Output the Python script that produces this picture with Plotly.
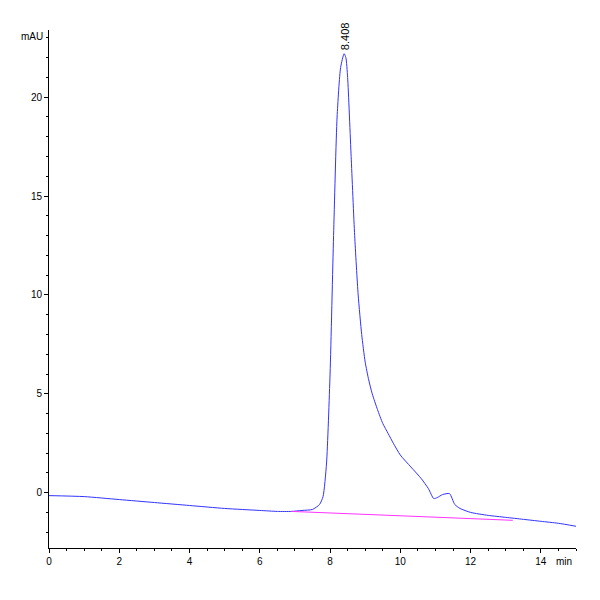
import plotly.graph_objects as go

# chromatogram trace
time_min = [0, 1, 2, 3, 4, 5, 6, 6.5, 6.9, 7.2, 7.5, 7.7, 7.8, 7.9, 8.0, 8.1, 8.2, 8.3,
            8.4, 8.45, 8.5, 8.6, 8.7, 8.8, 8.9, 9.0, 9.1, 9.2, 9.35, 9.5, 9.65, 9.8,
            10.0, 10.3, 10.6, 10.8, 10.95, 11.05, 11.2, 11.4, 11.55, 11.7, 12, 12.5,
            13, 13.5, 14, 14.5, 15]
signal_mau = [-0.15, -0.2, -0.35, -0.5, -0.65, -0.8, -0.9, -0.95, -0.95, -0.9, -0.85, -0.6,
              -0.2, 1.5, 6, 13, 19, 21.5, 22.2, 22.0, 21, 17, 13, 10, 8.0, 6.6, 5.7, 5.0,
              4.2, 3.5, 3.0, 2.5, 1.9, 1.3, 0.7, 0.2, -0.3, -0.25, -0.1, -0.05, -0.6,
              -0.8, -1.0, -1.15, -1.25, -1.35, -1.45, -1.55, -1.7]

# integration baseline
base_t = [6.9, 13.2]
base_y = [-0.95, -1.4]

peak_t = 8.408
peak_y = 22.2

fig = go.Figure()
fig.add_trace(go.Scatter(x=time_min, y=signal_mau, mode="lines",
                         line=dict(color="#3333ff", width=1, shape="spline", smoothing=0.6)))
fig.add_trace(go.Scatter(x=base_t, y=base_y, mode="lines",
                         line=dict(color="#ff33ff", width=1)))
fig.add_annotation(x=peak_t, y=peak_y, text="8.408", textangle=-90, showarrow=False,
                   yanchor="bottom", yshift=2, font=dict(size=11, color="black"))

axis_common = dict(showline=True, linecolor="black", linewidth=1, showgrid=False,
                   zeroline=False, ticks="outside", ticklen=4, tickcolor="black",
                   automargin=False,
                   tickfont=dict(size=10, color="black", family="Liberation Sans"))
fig.update_xaxes(range=[0, 15], dtick=2, minor=dict(ticks="outside", ticklen=2, dtick=0.5,
                 tickcolor="black"), **axis_common)
fig.update_yaxes(range=[-2.8, 23.4], dtick=5, minor=dict(ticks="outside", ticklen=2, dtick=1,
                 tickcolor="black"), **axis_common)

fig.add_annotation(xref="paper", yref="paper", x=0, y=1, text="mAU", showarrow=False,
                   xanchor="right", yanchor="middle", xshift=-4, yshift=-6,
                   font=dict(size=10, color="black"))
fig.add_annotation(xref="paper", yref="paper", x=1, y=0, text="min", showarrow=False,
                   xanchor="right", yanchor="top", yshift=-6, xshift=-2,
                   font=dict(size=10, color="black"))

fig.update_layout(width=600, height=600, showlegend=False, plot_bgcolor="white",
                  paper_bgcolor="white", margin=dict(l=41, r=32, t=22, b=60),
                  font=dict(family="Liberation Sans"))
fig.write_html("out.html")
